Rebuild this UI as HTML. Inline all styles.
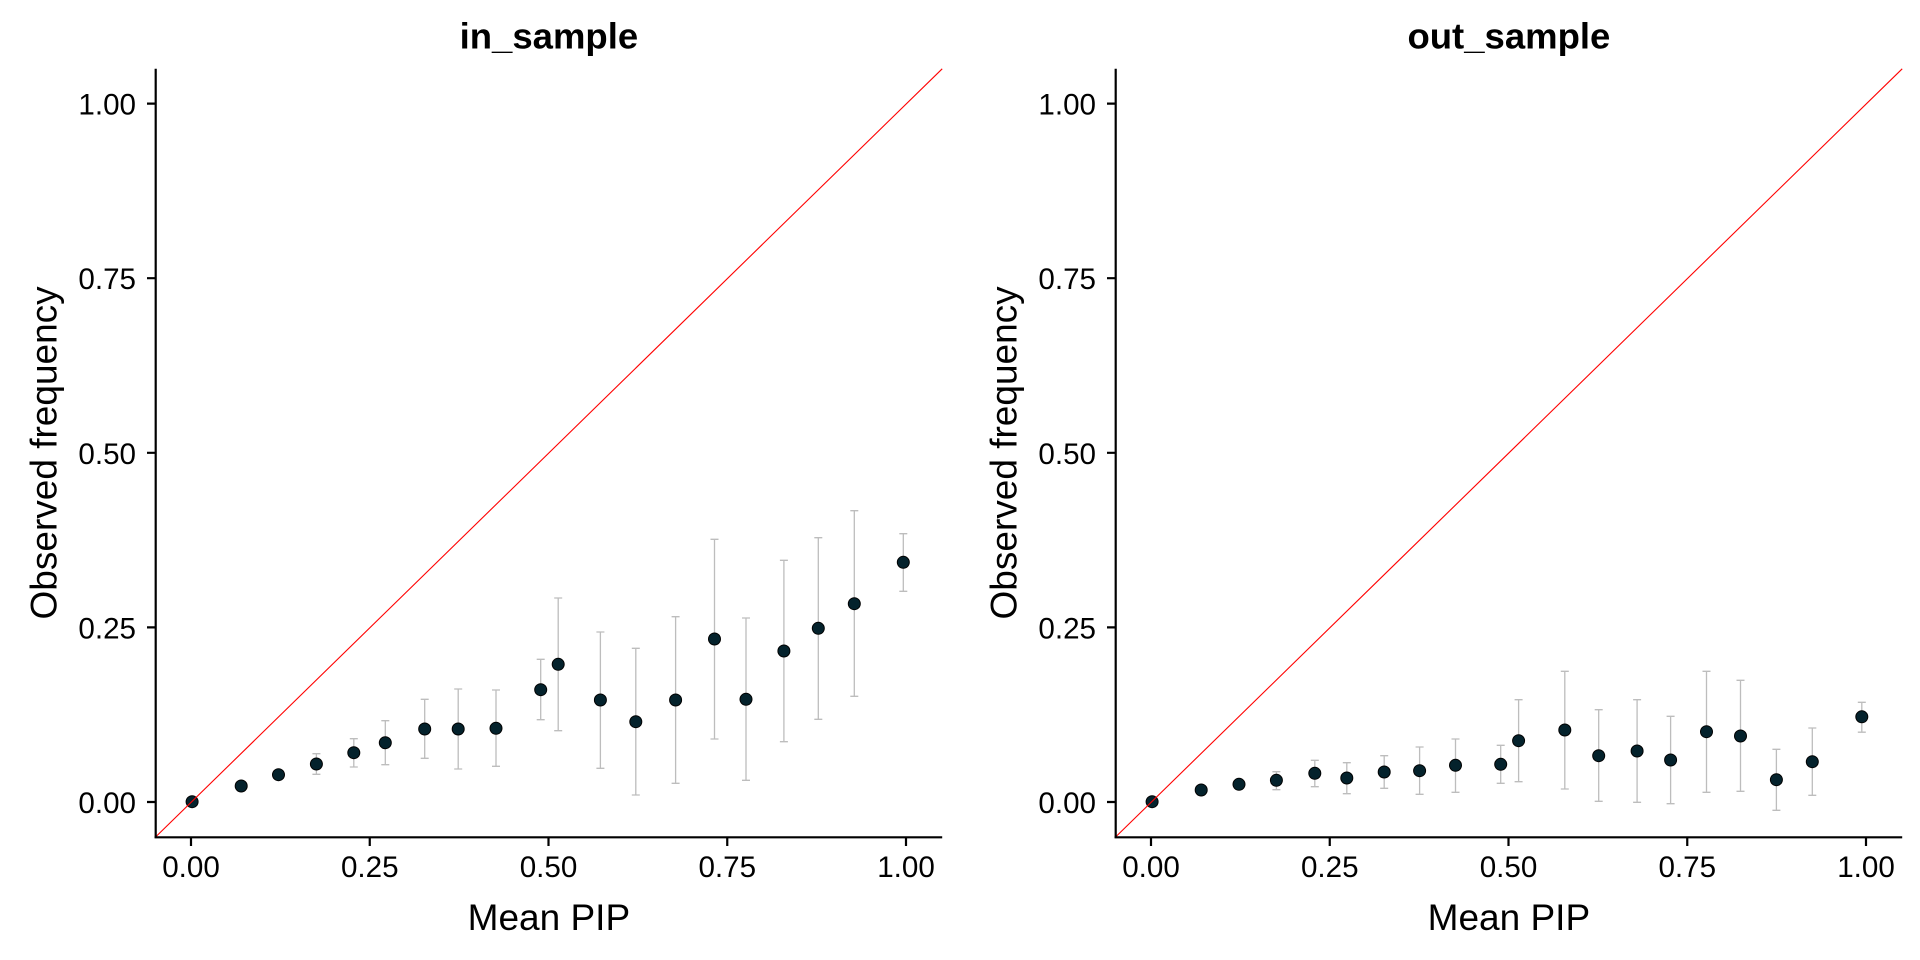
<!DOCTYPE html>
<html>
<head>
<meta charset="utf-8">
<style>
html,body{margin:0;padding:0;background:#fff;}
svg{display:block;}
text{font-family:"Liberation Sans",Arial,sans-serif;fill:#000;}
</style>
</head>
<body>
<svg width="1920" height="960" viewBox="0 0 1920 960" xmlns="http://www.w3.org/2000/svg">
<rect width="1920" height="960" fill="#fff"/>

<!-- ===== LEFT PANEL ===== -->
<g>
  <g stroke="#bdbdbd" stroke-width="1.3" fill="none">
    <path d="M316.4,753.7V774.3M312.4,753.7H320.4M312.4,774.3H320.4"/>
    <path d="M353.8,738.7V767M349.8,738.7H357.8M349.8,767H357.8"/>
    <path d="M385.3,720.7V764.7M381.3,720.7H389.3M381.3,764.7H389.3"/>
    <path d="M424.7,699.3V758.3M420.7,699.3H428.7M420.7,758.3H428.7"/>
    <path d="M458.2,689V769M454.2,689H462.2M454.2,769H462.2"/>
    <path d="M496,690V766.3M492,690H500M492,766.3H500"/>
    <path d="M540.7,659.3V719.7M536.7,659.3H544.7M536.7,719.7H544.7"/>
    <path d="M558.2,598V730.7M554.2,598H562.2M554.2,730.7H562.2"/>
    <path d="M600.4,632V768.3M596.4,632H604.4M596.4,768.3H604.4"/>
    <path d="M635.8,648.3V795M631.8,648.3H639.8M631.8,795H639.8"/>
    <path d="M675.6,616.7V783.3M671.6,616.7H679.6M671.6,783.3H679.6"/>
    <path d="M714.5,539.3V739M710.5,539.3H718.5M710.5,739H718.5"/>
    <path d="M746,618V780.3M742,618H750M742,780.3H750"/>
    <path d="M783.9,560.3V741.7M779.9,560.3H787.9M779.9,741.7H787.9"/>
    <path d="M818.3,537.7V719.3M814.3,537.7H822.3M814.3,719.3H822.3"/>
    <path d="M854.3,510.7V696.3M850.3,510.7H858.3M850.3,696.3H858.3"/>
    <path d="M903.3,533.7V591.3M899.3,533.7H907.3M899.3,591.3H907.3"/>
  </g>
  <g fill="#04222c" stroke="#000" stroke-width="1">
    <circle cx="192.1" cy="801.7" r="6"/>
    <circle cx="241.2" cy="786" r="6"/>
    <circle cx="278.5" cy="774.7" r="6"/>
    <circle cx="316.4" cy="764" r="6"/>
    <circle cx="353.8" cy="752.7" r="6"/>
    <circle cx="385.3" cy="742.7" r="6"/>
    <circle cx="424.7" cy="729" r="6"/>
    <circle cx="458.2" cy="729" r="6"/>
    <circle cx="496" cy="728.3" r="6"/>
    <circle cx="540.7" cy="689.7" r="6"/>
    <circle cx="558.2" cy="664.3" r="6"/>
    <circle cx="600.4" cy="700" r="6"/>
    <circle cx="635.8" cy="721.7" r="6"/>
    <circle cx="675.6" cy="700" r="6"/>
    <circle cx="714.5" cy="639" r="6"/>
    <circle cx="746" cy="699.3" r="6"/>
    <circle cx="783.9" cy="651" r="6"/>
    <circle cx="818.3" cy="628.3" r="6"/>
    <circle cx="854.3" cy="603.7" r="6"/>
    <circle cx="903.3" cy="562.3" r="6"/>
  </g>
  <line x1="155.7" y1="836.9" x2="942.2" y2="68.8" stroke="#ff0000" stroke-width="1.1"/>
  <g stroke="#000" stroke-width="2.2" fill="none">
    <path d="M155.7,68.8V838.1"/>
    <path d="M154.6,837.3H942.2"/>
    <path d="M147,802H155.7M147,627.4H155.7M147,452.8H155.7M147,278.2H155.7M147,103.6H155.7"/>
    <path d="M191,837.3V846M369.75,837.3V846M548.5,837.3V846M727.25,837.3V846M906,837.3V846"/>
  </g>
  <g font-size="29.6" text-anchor="end">
    <text x="136" y="813">0.00</text>
    <text x="136" y="638.4">0.25</text>
    <text x="136" y="463.8">0.50</text>
    <text x="136" y="289.2">0.75</text>
    <text x="136" y="114.6">1.00</text>
  </g>
  <g font-size="29.6" text-anchor="middle">
    <text x="191" y="877">0.00</text>
    <text x="369.75" y="877">0.25</text>
    <text x="548.5" y="877">0.50</text>
    <text x="727.25" y="877">0.75</text>
    <text x="906" y="877">1.00</text>
  </g>
  <text x="548.9" y="930" font-size="37" text-anchor="middle">Mean PIP</text>
  <text transform="translate(56.7,452.9) rotate(-90)" font-size="37" text-anchor="middle">Observed frequency</text>
  <text x="548.9" y="48.3" font-size="36.5" font-weight="bold" text-anchor="middle">in_sample</text>
</g>

<!-- ===== RIGHT PANEL ===== -->
<g>
  <g stroke="#bdbdbd" stroke-width="1.3" fill="none">
    <path d="M1276.4,771.7V789.7M1272.4,771.7H1280.4M1272.4,789.7H1280.4"/>
    <path d="M1314.8,760.3V786.7M1310.8,760.3H1318.8M1310.8,786.7H1318.8"/>
    <path d="M1346.8,762.7V793.7M1342.8,762.7H1350.8M1342.8,793.7H1350.8"/>
    <path d="M1384.2,755.7V788.3M1380.2,755.7H1388.2M1380.2,788.3H1388.2"/>
    <path d="M1419.6,747V794.3M1415.6,747H1423.6M1415.6,794.3H1423.6"/>
    <path d="M1455.5,739V792.3M1451.5,739H1459.5M1451.5,792.3H1459.5"/>
    <path d="M1500.7,745.3V783.3M1496.7,745.3H1504.7M1496.7,783.3H1504.7"/>
    <path d="M1518.6,699.7V781.7M1514.6,699.7H1522.6M1514.6,781.7H1522.6"/>
    <path d="M1564.8,671.3V789M1560.8,671.3H1568.8M1560.8,789H1568.8"/>
    <path d="M1598.7,709.7V801.3M1594.7,709.7H1602.7M1594.7,801.3H1602.7"/>
    <path d="M1637.1,699.7V802.3M1633.1,699.7H1641.1M1633.1,802.3H1641.1"/>
    <path d="M1670.6,716.3V803.7M1666.6,716.3H1674.6M1666.6,803.7H1674.6"/>
    <path d="M1706.5,671.3V792.3M1702.5,671.3H1710.5M1702.5,792.3H1710.5"/>
    <path d="M1740.5,680.3V791.3M1736.5,680.3H1744.5M1736.5,791.3H1744.5"/>
    <path d="M1776.4,749.3V810.3M1772.4,749.3H1780.4M1772.4,810.3H1780.4"/>
    <path d="M1812.3,728V795.3M1808.3,728H1816.3M1808.3,795.3H1816.3"/>
    <path d="M1861.8,702.3V732.2M1857.8,702.3H1865.8M1857.8,732.2H1865.8"/>
  </g>
  <g fill="#04222c" stroke="#000" stroke-width="1">
    <circle cx="1152.1" cy="801.7" r="6"/>
    <circle cx="1201.2" cy="790" r="6"/>
    <circle cx="1239" cy="784.3" r="6"/>
    <circle cx="1276.4" cy="780.3" r="6"/>
    <circle cx="1314.8" cy="773.3" r="6"/>
    <circle cx="1346.8" cy="778" r="6"/>
    <circle cx="1384.2" cy="772" r="6"/>
    <circle cx="1419.6" cy="770.7" r="6"/>
    <circle cx="1455.5" cy="765.3" r="6"/>
    <circle cx="1500.7" cy="764.3" r="6"/>
    <circle cx="1518.6" cy="740.7" r="6"/>
    <circle cx="1564.8" cy="730" r="6"/>
    <circle cx="1598.7" cy="755.7" r="6"/>
    <circle cx="1637.1" cy="751" r="6"/>
    <circle cx="1670.6" cy="760" r="6"/>
    <circle cx="1706.5" cy="731.7" r="6"/>
    <circle cx="1740.5" cy="736" r="6"/>
    <circle cx="1776.4" cy="779.7" r="6"/>
    <circle cx="1812.3" cy="761.7" r="6"/>
    <circle cx="1861.8" cy="716.8" r="6"/>
  </g>
  <line x1="1115.7" y1="836.9" x2="1902.2" y2="68.8" stroke="#ff0000" stroke-width="1.1"/>
  <g stroke="#000" stroke-width="2.2" fill="none">
    <path d="M1115.7,68.8V838.1"/>
    <path d="M1114.6,837.3H1902.2"/>
    <path d="M1107,802H1115.7M1107,627.4H1115.7M1107,452.8H1115.7M1107,278.2H1115.7M1107,103.6H1115.7"/>
    <path d="M1151,837.3V846M1329.75,837.3V846M1508.5,837.3V846M1687.25,837.3V846M1866,837.3V846"/>
  </g>
  <g font-size="29.6" text-anchor="end">
    <text x="1096" y="813">0.00</text>
    <text x="1096" y="638.4">0.25</text>
    <text x="1096" y="463.8">0.50</text>
    <text x="1096" y="289.2">0.75</text>
    <text x="1096" y="114.6">1.00</text>
  </g>
  <g font-size="29.6" text-anchor="middle">
    <text x="1151" y="877">0.00</text>
    <text x="1329.75" y="877">0.25</text>
    <text x="1508.5" y="877">0.50</text>
    <text x="1687.25" y="877">0.75</text>
    <text x="1866" y="877">1.00</text>
  </g>
  <text x="1508.9" y="930" font-size="37" text-anchor="middle">Mean PIP</text>
  <text transform="translate(1016.7,452.9) rotate(-90)" font-size="37" text-anchor="middle">Observed frequency</text>
  <text x="1508.9" y="48.3" font-size="36.5" font-weight="bold" text-anchor="middle">out_sample</text>
</g>
</svg>
</body>
</html>
